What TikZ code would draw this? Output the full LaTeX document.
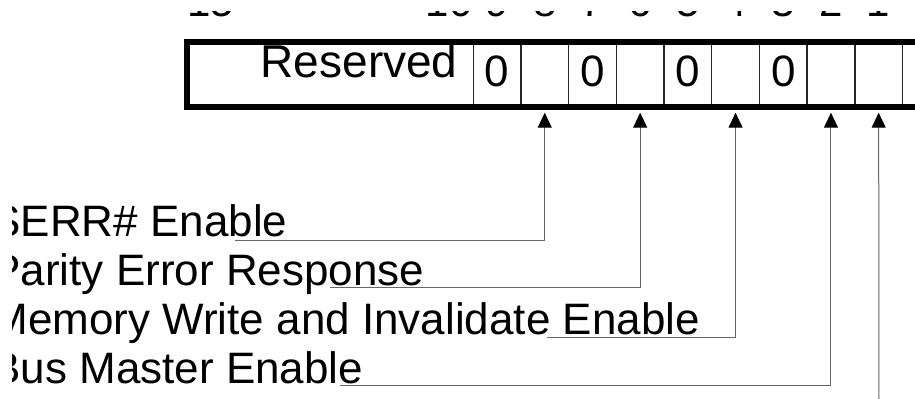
\documentclass[tikz,border=0pt]{standalone}
\usepackage{fontspec}
\setmainfont{Liberation Sans}
\usetikzlibrary{arrows.meta}

\tikzset{
  bitcell/.style={draw=black!85, line width=0.7pt, minimum width=23.85pt, minimum height=32.5pt, text depth=3.5pt, font=\fontsize{22}{26}\selectfont},
  regframe/.style={draw=black, line width=3pt},
  fieldname/.style={anchor=base west, font=\fontsize{22}{26}\selectfont},
  leader/.style={draw=black!60, line width=0.5pt, -{Triangle[length=7.5pt, width=7pt, color=black]}, shorten >=2.5pt}
}

\begin{document}
\begin{tikzpicture}[x=0.5pt, y=-0.5pt, every node/.style={inner sep=0pt, font=\fontsize{21}{25}\selectfont}]
     \useasboundingbox (0,0) rectangle (915,398);
     \clip (12,11) rectangle (916,399);

     % bit numbers
     \foreach \b in {15,10,9,8,7,6,5,4,3,2,1}
       \node [anchor=base] (n\b) at ({187+(15.5-\b)*47.7}, 16) {\b};

     % register cells
     \node [bitcell, minimum width=143.1pt] (res) at (330.1, 74.5) {};
     \node [anchor=base east, font=\fontsize{23}{27}\selectfont] (restxt) at (458, 77) {Reserved};
     \foreach \b/\v in {9/0, 8/{}, 7/0, 6/{}, 5/0, 4/{}, 3/0, 2/{}, 1/{}, 0/{}}
       \node [bitcell] (b\b) at ({187+(15.5-\b)*47.7}, 74.5) {\v};
     \draw [regframe] (187, 42) rectangle (960, 107);

     % field names
     \node [fieldname] (serr) at (-9, 236) {SERR\# Enable};
     \node [fieldname] (parity) at (-9, 285) {Parity Error Response};
     \node [fieldname] (mwi) at (-9, 334) {Memory Write and Invalidate Enable};
     \node [fieldname] (busm) at (-9, 383) {Bus Master Enable};

     \coordinate (serr-l) at (235, 240);
     \coordinate (parity-l) at (330, 287);
     \coordinate (mwi-l) at (547, 337);
     \coordinate (busm-l) at (340, 385);
     \coordinate (b1-foot) at (879, 410);

     \draw [leader] (serr-l) -| (b8.south);
     \draw [leader] (parity-l) -| (b6.south);
     \draw [leader] (mwi-l) -| (b4.south);
     \draw [leader] (busm-l) -| (b2.south);
     \draw [leader] (b1-foot) -- (b1.south);
    \end{tikzpicture}
\end{document}
